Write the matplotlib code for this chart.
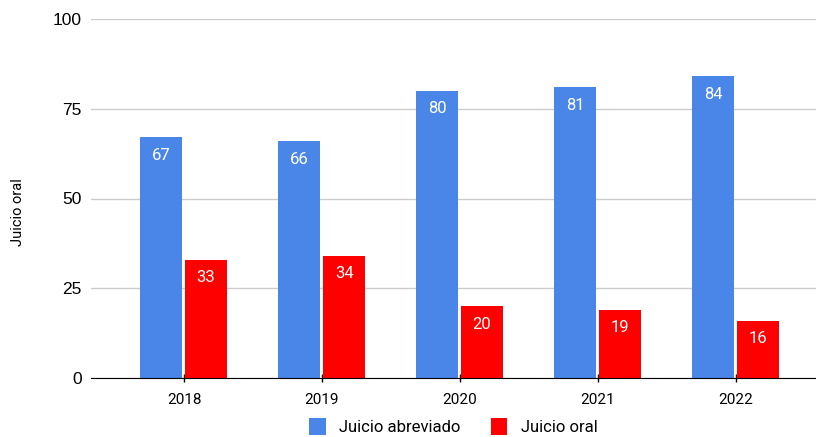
import numpy as np
import matplotlib.pyplot as plt

years = ["2018", "2019", "2020", "2021", "2022"]
abreviado = [67, 66, 80, 81, 84]
oral = [33, 34, 20, 19, 16]

blue = "#4a86e8"
red = "#ff0000"

fig = plt.figure(figsize=(8.16, 4.37), dpi=100)
ax = fig.add_axes([91 / 816, 1 - 378 / 437, 725 / 816, 359 / 437])

x = np.arange(len(years))
w = 0.305
b1 = ax.bar(x - 0.167, abreviado, w, color=blue, label="Juicio abreviado", zorder=3)
b2 = ax.bar(x + 0.160, oral, w, color=red, label="Juicio oral", zorder=3)

# value labels inside the top of each bar
for bars in (b1, b2):
    for rect in bars:
        h = rect.get_height()
        ax.annotate(str(int(h)), (rect.get_x() + rect.get_width() / 2, h),
                    xytext=(0, -18), textcoords="offset pixels",
                    ha="center", va="center", color="white", fontsize=12,
                    family="Roboto", zorder=4)

ax.set_xlim(-0.674, 4.58)
ax.set_ylim(0, 100)
ax.set_yticks([0, 25, 50, 75, 100])
ax.set_xticks(x)
ax.set_xticklabels(years, family="Roboto", fontsize=11)
for t in ax.get_yticklabels():
    t.set_family("Liberation Sans")
    t.set_fontsize(12.5)
ax.tick_params(axis="y", length=0, pad=6.5)
ax.tick_params(axis="x", length=6, width=1, direction="inout", pad=8)
ax.grid(axis="y", color="#cccccc", linewidth=1, zorder=0)
for s in ["top", "right", "left"]:
    ax.spines[s].set_visible(False)
ax.spines["bottom"].set_color("black")
ax.spines["bottom"].set_zorder(5)

ax.set_ylabel("Juicio oral", family="Roboto", fontsize=10.5, va="center")
ax.yaxis.set_label_coords(-73 / 725, 0.461)

ax.legend(loc="center", bbox_to_anchor=(0.5, -0.135), ncol=2, frameon=False,
          prop={"family": "Roboto", "size": 12}, handlelength=1.0, handleheight=1.2,
          columnspacing=1.8, handletextpad=0.8)

fig.savefig("out.png", dpi=100)
